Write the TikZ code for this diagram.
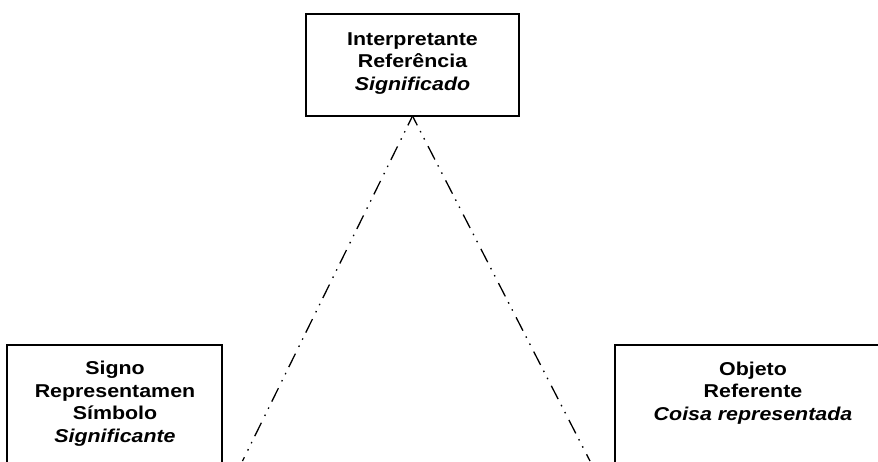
\documentclass[tikz,border=0pt]{standalone}
\usepackage{fontspec}
\setmainfont{Liberation Sans}[FakeStretch=1.15]
\begin{document}
\begin{tikzpicture}[x=1pt,y=-1pt,
  box/.style={draw, line width=2.2pt, rectangle, inner sep=0pt, outer sep=0pt},
  boxtext/.style={align=center, font=\fontsize{18.6}{22.5}\selectfont\bfseries,
    inner sep=0pt, anchor=base},
  link/.style={line width=1.3pt,
    dash pattern=on 15pt off 6.5pt on 1.5pt off 6.5pt on 1.5pt off 7.5pt,
    dash phase=4.6pt}]
\useasboundingbox (0,0) rectangle (878,461);
\clip (0,0) rectangle (878,461);

% the three corners of the semiotic triangle (text placed by its last baseline)
\node[box, minimum width=213pt, minimum height=102pt] (interp) at (412.5,65) {};
\node[boxtext] (interp-t) at (412.5,90)
  {Interpretante\\Referência\\\textit{Significado}};

\node[box, minimum width=215pt, minimum height=125pt] (signo) at (114.5,407.5) {};
\node[boxtext] (signo-t) at (115,442)
  {Signo\\Representamen\\Símbolo\\\textit{Significante}};

\node[box, minimum width=276pt, minimum height=125pt] (objeto) at (753,407.5) {};
\node[boxtext] (objeto-t) at (753,420)
  {Objeto\\Referente\\\textit{Coisa representada}};

% dash-dot-dot sides running down from the interpretant
\coordinate (sig-end) at (242.5,461);
\coordinate (obj-end) at (590,461);
\draw[link] (interp.south) -- (sig-end);
\draw[link] (interp.south) -- (obj-end);
\end{tikzpicture}
\end{document}
